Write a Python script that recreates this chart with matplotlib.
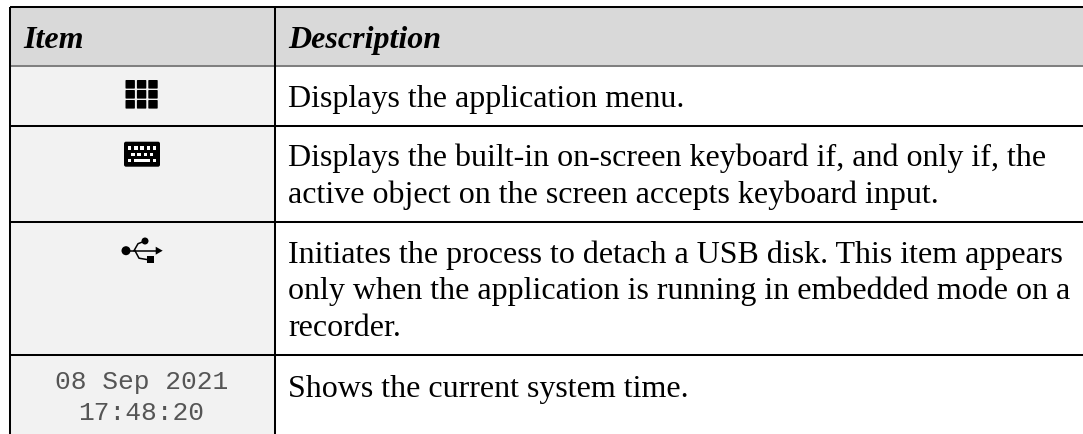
import matplotlib
matplotlib.use('Agg')
from matplotlib import pyplot as plt
from matplotlib.patches import Rectangle, FancyBboxPatch, Circle, Polygon

headers = ['Item', 'Description']
descriptions = [
    ['Displays the application menu.'],
    ['Displays the built-in on-screen keyboard if, and only if, the',
     'active object on the screen accepts keyboard input.'],
    ['Initiates the process to detach a USB disk. This item appears',
     'only when the application is running in embedded mode on a',
     'recorder.'],
    ['Shows the current system time.'],
]
clock_lines = ['08 Sep 2021', '17:48:20']

W, H = 1083, 434
fig = plt.figure(figsize=(W / 100, H / 100), dpi=100)
ax = fig.add_axes([0, 0, 1, 1])
ax.set_xlim(0, W)
ax.set_ylim(H, 0)
ax.axis('off')

left, mid, right = 10, 275, W
top, head = 7, 66
row_lines = [126, 221.5, 355, H]
baselines = [[106.5], [166, 202.5], [263, 299, 336], [396.5]]
clock_base = [389, 420.5]

# backgrounds
ax.add_patch(Rectangle((left, top), right - left, head - top, color='#d9d9d9', lw=0))
ax.add_patch(Rectangle((left, head), mid - left, H - head, color='#f2f2f2', lw=0))

# rules
ax.plot([left, right], [top, top], color='black', lw=1.45, solid_capstyle='butt')
ax.plot([left, right], [head, head], color='#808080', lw=1.45, solid_capstyle='butt')
for y in row_lines[:-1]:
    ax.plot([left, right], [y, y], color='black', lw=1.45, solid_capstyle='butt')
ax.plot([left, left], [top, H], color='black', lw=1.45, solid_capstyle='butt')
ax.plot([mid, mid], [top, H], color='black', lw=1.45, solid_capstyle='butt')

serif = 'Liberation Serif'
fs = 23
ax.text(23, 48, headers[0], family=serif, size=fs, weight='bold', style='italic', va='baseline')
ax.text(288, 48, headers[1], family=serif, size=fs, weight='bold', style='italic', va='baseline')

for lines, ys in zip(descriptions, baselines):
    for line, y in zip(lines, ys):
        ax.text(288.5, y, line, family=serif, size=fs, color='black', va='baseline')

for line, y in zip(clock_lines, clock_base):
    ax.text(141.5, y, line, family='Liberation Mono', size=18.9, color='#555555', ha='center', va='baseline')


def grid_icon(cx, cy):
    # 3x3 block menu icon
    for i in range(3):
        for j in range(3):
            ax.add_patch(FancyBboxPatch((cx - 16 + i * 11.4 + 0.7, cy - 14 + j * 10 + 0.7), 8, 7.2,
                                        boxstyle='round,pad=0.7', color='black', lw=0))


def keyboard_icon(cx, cy):
    ax.add_patch(FancyBboxPatch((cx - 16, cy - 10.5), 32, 21, boxstyle='round,pad=2', color='black', lw=0))
    for i in range(5):
        ax.add_patch(Rectangle((cx - 14 + i * 6.2, cy - 8), 3.4, 3.6, color='white', lw=0))
    for i in range(4):
        ax.add_patch(Rectangle((cx - 10.7 + i * 6.1, cy - 1.6), 3.4, 3.6, color='white', lw=0))
    ax.add_patch(Rectangle((cx - 13.7, cy + 4.4), 3, 3.6, color='white', lw=0))
    ax.add_patch(Rectangle((cx - 7.7, cy + 4.4), 15.7, 3.6, color='white', lw=0))
    ax.add_patch(Rectangle((cx + 11, cy + 4.4), 3.4, 3.6, color='white', lw=0))


def usb_icon(cx, cy):
    ax.add_patch(Circle((cx - 16, cy), 4.5, color='black', lw=0))
    ax.plot([cx - 15, cx + 15], [cy, cy], color='black', lw=1.1)
    ax.add_patch(Polygon([(cx + 20.7, cy), (cx + 13.7, cy - 4), (cx + 13.7, cy + 4)], color='black', lw=0))
    ax.plot([cx - 8, cx - 4, cx + 3], [cy, cy - 7, cy - 9.7], color='black', lw=1.1)
    ax.add_patch(Circle((cx + 3, cy - 9.7), 3.5, color='black', lw=0))
    ax.plot([cx - 7, cx - 3, cx + 6], [cy, cy + 7.5, cy + 9], color='black', lw=1.1)
    ax.add_patch(Rectangle((cx + 4.7, cy + 5.3), 7.3, 7.3, color='black', lw=0))


grid_icon(141.5, 94)
keyboard_icon(142, 154.2)
usb_icon(142, 250.7)

fig.savefig('out.png', dpi=100)
